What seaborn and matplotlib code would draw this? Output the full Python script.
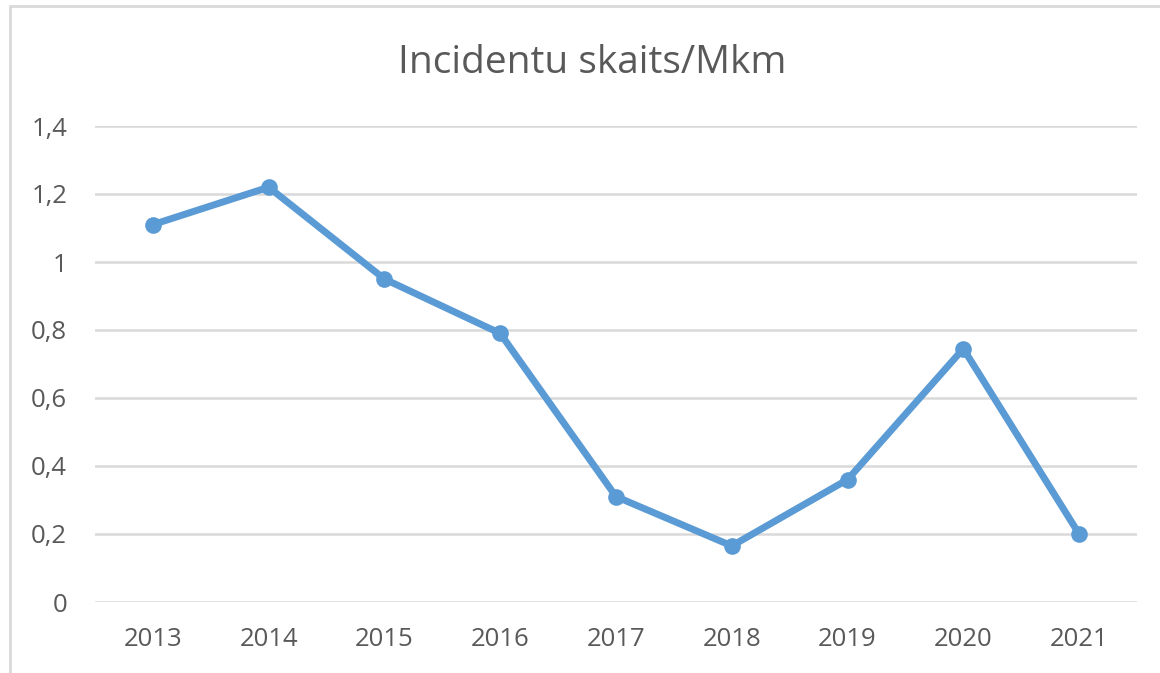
import matplotlib
matplotlib.use("Agg")
import matplotlib.pyplot as plt
import seaborn as sns
import pandas as pd
from matplotlib.ticker import FuncFormatter
from matplotlib.lines import Line2D

years = ["2013", "2014", "2015", "2016", "2017", "2018", "2019", "2020", "2021"]
values = [1.11, 1.22, 0.95, 0.79, 0.31, 0.165, 0.36, 0.745, 0.20]
yticks = [0, 0.2, 0.4, 0.6, 0.8, 1.0, 1.2, 1.4]
title = "Incidentu skaits/Mkm"

sns.set_theme(style="white")
plt.rcParams['font.family'] = ['Open Sans', 'DejaVu Sans']

df = pd.DataFrame({"year": years, "value": values})

W, H = 1160, 673
fig = plt.figure(figsize=(W / 100, H / 100), dpi=100)
ax = fig.add_axes([95 / W, 1 - 602 / H, (1137 - 95) / W, (602 - 126) / H])

sns.lineplot(data=df, x="year", y="value", ax=ax, color="#5B9BD5", linewidth=5,
             marker="o", markersize=12, markeredgewidth=0, sort=False)

ax.set_xlim(-0.5, len(years) - 0.5)
ax.set_ylim(0, 1.4)
ax.set_yticks(yticks)
ax.yaxis.set_major_formatter(FuncFormatter(lambda v, p: ("%g" % round(v, 1)).replace(".", ",")))
ax.grid(axis="y", color="#D9D9D9", linewidth=1.8)
ax.grid(axis="x", visible=False)
ax.set_axisbelow(True)
for s in ax.spines.values():
    s.set_visible(False)
ax.set_xlabel("")
ax.set_ylabel("")
ax.tick_params(axis="both", length=0, labelsize=18.5, labelcolor="#595959")
ax.tick_params(axis="y", pad=20)
ax.tick_params(axis="x", pad=18)

fig.text(592 / W, 1 - 73 / H, title, fontsize=28, color="#595959", ha="center", va="baseline")

# chart border (left and top visible)
fig.add_artist(Line2D([10 / W, 10 / W], [0, 1 - 6 / H], transform=fig.transFigure, color="#D9D9D9", linewidth=2))
fig.add_artist(Line2D([10 / W, 1], [1 - 6 / H, 1 - 6 / H], transform=fig.transFigure, color="#D9D9D9", linewidth=2))

fig.savefig("out.png", dpi=100)
